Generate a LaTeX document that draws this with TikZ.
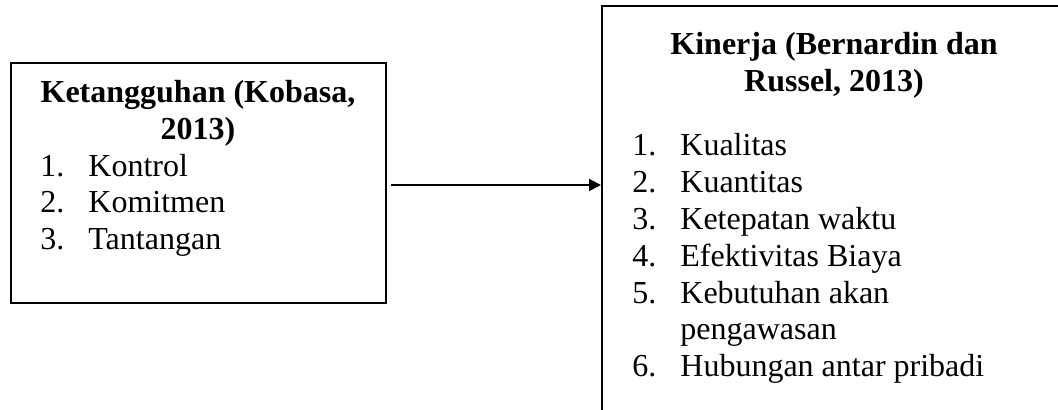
\documentclass[tikz,border=0pt]{standalone}
\usepackage{fontspec}
\setmainfont{Liberation Serif}
\usetikzlibrary{arrows.meta,fit}

\tikzset{
  box/.style={draw, line width=1pt, inner sep=0pt},
  title/.style={font=\bfseries\fontsize{16}{18.5}\selectfont, align=center, inner sep=0pt, anchor=base},
  item/.style={font=\fontsize{16}{18.5}\selectfont, inner sep=0pt, anchor=base west}
}

\begin{document}
\begin{tikzpicture}[x=0.5pt,y=-0.5pt]

        \useasboundingbox (0,0) rectangle (1058,410);
        \clip (0,0) rectangle (1058,410);

        %===========================
        % Ketangguhan
        %===========================

        \node (ket) [box, fit={(11,63) (386,303)}] {};
        \node (ketT1) [title] at (198,103) {Ketangguhan (Kobasa,};
        \node (ketT2) [title] at (198,140) {2013)};
        \node (ketN1) [item] at (40,177) {1.};
        \node (ketI1) [item] at (88,177) {Kontrol};
        \node (ketN2) [item] at (40,213) {2.};
        \node (ketI2) [item] at (88,213) {Komitmen};
        \node (ketN3) [item] at (40,250) {3.};
        \node (ketI3) [item] at (88,250) {Tantangan};

        %===========================
        % Kinerja
        %===========================

        \node (kin) [box, fit={(602,6) (1080,430)}] {};
        \node (kinT1) [title] at (834,55) {Kinerja (Bernardin dan};
        \node (kinT2) [title] at (834,92) {Russel, 2013)};
        \node (kinN1) [item] at (632,156) {1.};
        \node (kinI1) [item] at (680,156) {Kualitas};
        \node (kinN2) [item] at (632,193) {2.};
        \node (kinI2) [item] at (680,193) {Kuantitas};
        \node (kinN3) [item] at (632,230) {3.};
        \node (kinI3) [item] at (680,230) {Ketepatan waktu};
        \node (kinN4) [item] at (632,267) {4.};
        \node (kinI4) [item] at (680,267) {Efektivitas Biaya};
        \node (kinN5) [item] at (632,304) {5.};
        \node (kinI5) [item] at (680,304) {Kebutuhan akan};
        \node (kinI5b) [item] at (680,340) {pengawasan};
        \node (kinN6) [item] at (632,377) {6.};
        \node (kinI6) [item] at (680,377) {Hubungan antar pribadi};

        %===========================
        % Arrow
        %===========================

        \draw[-{Triangle[length=6pt,width=6pt]}, line width=1pt, shorten <=2pt] ([yshift=-1pt]ket.east) -- ([yshift=-1pt]ket.east -| kin.west);

\end{tikzpicture}
\end{document}
